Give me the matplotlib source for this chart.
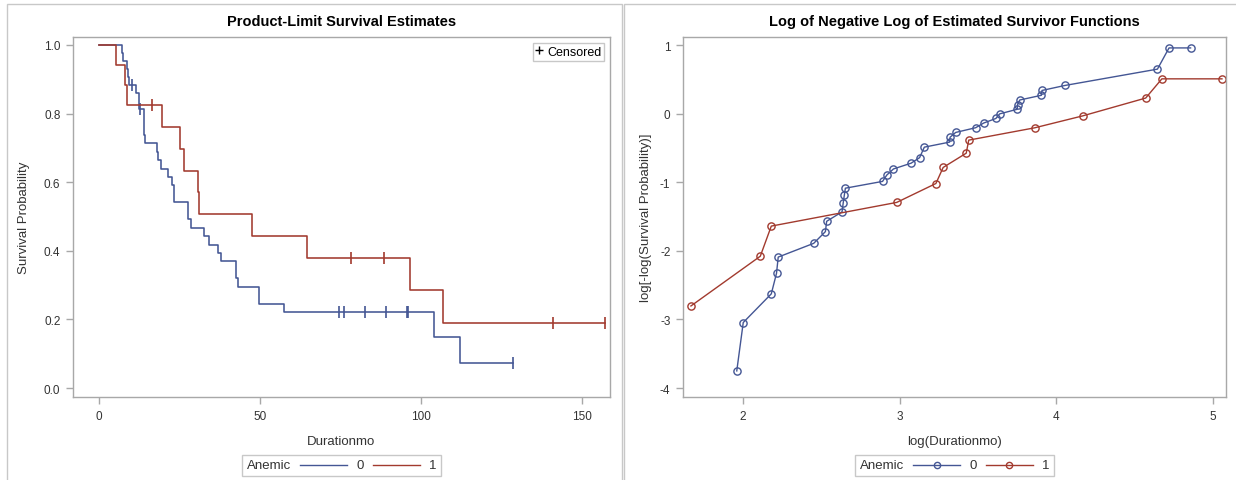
import numpy as np
import matplotlib
matplotlib.use("Agg")
import matplotlib.pyplot as plt
from matplotlib.lines import Line2D
from matplotlib.patches import Rectangle
from matplotlib.offsetbox import HPacker, TextArea, DrawingArea, AnchoredOffsetbox

plt.rcParams["font.family"] = ["Liberation Sans", "DejaVu Sans"]
plt.rcParams["axes.unicode_minus"] = False

# follow-up in months, status 1 = death, 0 = censored
groups = ["0", "1"]
time_0 = [7.1, 7.4, 8.85, 9.15, 9.25, 10.3, 11.6, 12.5, 12.6, 12.9, 13.9, 14.0,
          14.1, 14.2, 18.0, 18.5, 19.3, 21.6, 22.8, 23.5, 23.5, 27.6, 27.7, 28.7,
          32.6, 34.3, 37.1, 38.0, 42.5, 42.6, 43.2, 49.6, 49.8, 57.6, 74.6, 76.2,
          82.7, 89.2, 95.6, 96.1, 104.0, 112.0, 128.5]
status_0 = [1, 1, 1, 1, 1, 0, 1, 1, 1, 0, 1, 1,
            1, 1, 1, 1, 1, 1, 1, 1, 1, 1, 1, 1,
            1, 1, 1, 1, 1, 1, 1, 1, 1, 1, 0, 0,
            0, 0, 0, 0, 1, 1, 0]
time_1 = [5.3, 8.25, 8.85, 16.4, 19.7, 25.3, 26.5, 30.7, 31.2, 47.5, 64.5,
          78.3, 88.4, 96.5, 107.0, 141.0, 157.0]
status_1 = [1, 1, 1, 0, 1, 1, 1, 1, 1, 1, 1, 0, 0, 1, 1, 0, 0]

colors = ["#445694", "#A23A2E"]
grey = "#a8a8a8"
txt = "#333333"


def kaplan_meier(t, d):
    t = np.asarray(t, float)
    d = np.asarray(d, int)
    ev_t, ev_s = [], []
    s = 1.0
    for u in np.unique(t[d == 1]):
        n = np.sum(t >= u)
        k = np.sum((t == u) & (d == 1))
        s *= 1 - k / n
        ev_t.append(u)
        ev_s.append(s)
    return np.array(ev_t), np.array(ev_s)


def surv_at(x, ev_t, ev_s):
    idx = np.searchsorted(ev_t, x, side="right") - 1
    return np.where(idx >= 0, ev_s[np.clip(idx, 0, None)], 1.0)


def style_axes(ax):
    for sp in ax.spines.values():
        sp.set_color(grey)
        sp.set_linewidth(1)
    ax.tick_params(direction="out", length=5, width=1, color=grey,
                   labelcolor=txt, labelsize=8.5, pad=4)


def group_legend(ax, with_marker):
    # sizes here are in points
    items = [TextArea("Anemic", textprops=dict(fontsize=9.5, color=txt))]
    for lab, c in zip(groups, colors):
        da = DrawingArea(40, 6, 0, 0)
        da.add_artist(Line2D([3, 37], [3, 3], color=c, lw=1))
        if with_marker:
            da.add_artist(Line2D([20], [3], marker="o", mfc="none", mec=c,
                                 ms=4.5, mew=1))
        items += [da, TextArea(lab, textprops=dict(fontsize=9.5, color=txt))]
    box = HPacker(children=items, align="center", pad=0, sep=3.5)
    anch = AnchoredOffsetbox(loc="upper center", child=box, pad=0.3,
                             borderpad=0, frameon=True,
                             bbox_to_anchor=(0.5, -0.162),
                             bbox_transform=ax.transAxes)
    anch.patch.set_edgecolor("#c8c8c8")
    anch.patch.set_linewidth(1)
    ax.add_artist(anch)


fig = plt.figure(figsize=(12.36, 4.81), dpi=100)
W, H = 1236, 481

# panel frames
fig.patches.append(Rectangle((7 / W, -0.1), (622 - 7) / W, 1 - 5 / H + 0.1,
                             transform=fig.transFigure, fill=False,
                             edgecolor="#c8c8c8", lw=1))
fig.patches.append(Rectangle((624 / W, -0.1), (1240 - 624) / W, 1 - 5 / H + 0.1,
                             transform=fig.transFigure, fill=False,
                             edgecolor="#c8c8c8", lw=1))

ax1 = fig.add_axes([73 / W, 1 - 398 / H, (610 - 73) / W, (398 - 38) / H])
ax2 = fig.add_axes([683 / W, 1 - 398 / H, (1226 - 683) / W, (398 - 38) / H])

# Kaplan-Meier curves
data = [(time_0, status_0), (time_1, status_1)]
for (t, d), c in zip(data, colors):
    ev_t, ev_s = kaplan_meier(t, d)
    last = max(t)
    xs = np.concatenate([[0.0], ev_t, [last]])
    ys = np.concatenate([[1.0], ev_s, [ev_s[-1]]])
    ax1.step(xs, ys, where="post", color=c, lw=1.15)
    cens = np.array(t)[np.array(d) == 0]
    ax1.plot(cens, surv_at(cens, ev_t, ev_s), ls="none", marker="|",
             ms=8, mew=1.2, color=c)

ax1.set_xlim(-8, 158.7)
ax1.set_ylim(-0.026, 1.023)
ax1.set_xticks([0, 50, 100, 150])
ax1.set_yticks([0.0, 0.2, 0.4, 0.6, 0.8, 1.0])
ax1.set_yticklabels(["0.0", "0.2", "0.4", "0.6", "0.8", "1.0"])
ax1.set_xlabel("Durationmo", fontsize=9.5, color=txt)
ax1.set_ylabel("Survival Probability", fontsize=9.5, color=txt)
ax1.xaxis.set_label_coords(0.5, -0.105)
ax1.yaxis.set_label_coords(-0.08, 0.5)
style_axes(ax1)
cl = ax1.legend([Line2D([], [], ls="none", marker="+", color="k", ms=6, mew=1)],
                ["Censored"], loc="upper right", fontsize=9,
                handlelength=0.5, handletextpad=0.4, borderpad=0.25,
                fancybox=False, borderaxespad=0.45, framealpha=1)
cl.get_frame().set_edgecolor("#c8c8c8")
cl.get_frame().set_linewidth(1)
group_legend(ax1, False)

# log(-log S) against log time, at event times and the last follow-up
for (t, d), c in zip(data, colors):
    ev_t, ev_s = kaplan_meier(t, d)
    px = np.append(ev_t, max(t))
    py = np.append(ev_s, ev_s[-1])
    ax2.plot(np.log(px), np.log(-np.log(py)), color=c, lw=1, marker="o",
             mfc="none", mec=c, ms=5.2, mew=1)

ax2.set_xlim(1.617, 5.082)
ax2.set_ylim(-4.13, 1.117)
ax2.set_xticks([2, 3, 4, 5])
ax2.set_yticks([-4, -3, -2, -1, 0, 1])
ax2.set_xlabel("log(Durationmo)", fontsize=9.5, color=txt)
ax2.set_ylabel("log[-log(Survival Probability)]", fontsize=9.5, color=txt)
ax2.xaxis.set_label_coords(0.5, -0.105)
ax2.yaxis.set_label_coords(-0.057, 0.5)
style_axes(ax2)
group_legend(ax2, True)

fig.text((73 + 610) / 2 / W, 1 - 22 / H, "Product-Limit Survival Estimates",
         ha="center", va="center", fontsize=10.5, fontweight="bold")
fig.text((683 + 1226) / 2 / W, 1 - 22 / H,
         "Log of Negative Log of Estimated Survivor Functions",
         ha="center", va="center", fontsize=10.5, fontweight="bold")

fig.savefig("out.png", dpi=100)
